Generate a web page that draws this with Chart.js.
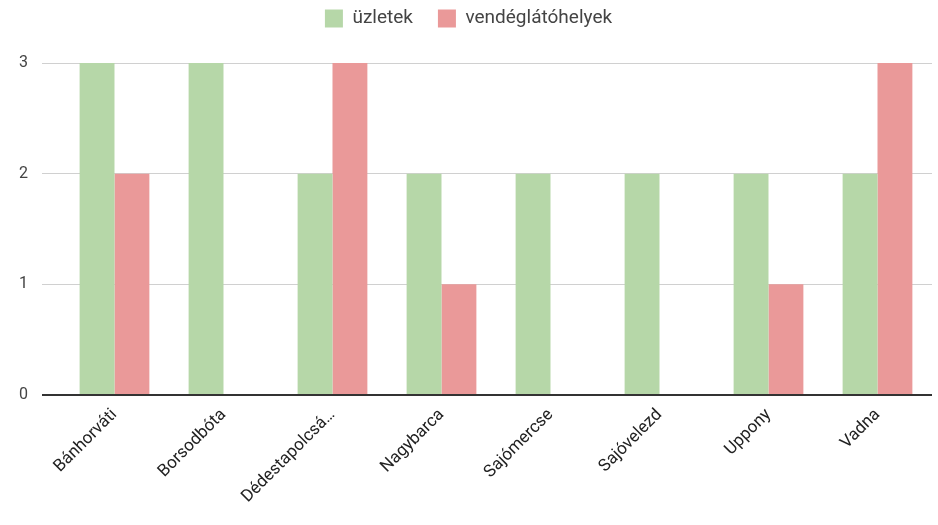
<!DOCTYPE html>
<html>
<head>
<meta charset="utf-8">
<script src="https://cdn.jsdelivr.net/npm/chart.js@4"></script>
<style>
  html, body { margin: 0; padding: 0; background: #fff; }
  #wrap { width: 938px; height: 525px; position: relative; }
</style>
</head>
<body>
<div id="wrap"><canvas id="ch"></canvas></div>
<script>
// ── data ──────────────────────────────────────────────
const categories = ['Bánhorváti', 'Borsodbóta', 'Dédestapolcsá…', 'Nagybarca', 'Sajómercse', 'Sajóvelezd', 'Uppony', 'Vadna'];
const uzletek = [3, 3, 2, 2, 2, 2, 2, 2];
const vendeglatohelyek = [2, 0, 3, 1, 0, 0, 1, 3];
const yTicks = [0, 1, 2, 3];

const FONT = 'Roboto, "Liberation Sans", Arial, sans-serif';

new Chart(document.getElementById('ch').getContext('2d'), {
  type: 'bar',
  data: {
    labels: categories,
    datasets: [
      { label: 'üzletek', data: uzletek, backgroundColor: '#b6d7a8', borderWidth: 0,
        categoryPercentage: 0.64, barPercentage: 1 },
      { label: 'vendéglátóhelyek', data: vendeglatohelyek, backgroundColor: '#ea9999', borderWidth: 0,
        categoryPercentage: 0.64, barPercentage: 1 },
    ]
  },
  options: {
    responsive: true, maintainAspectRatio: false, animation: false,
    layout: { padding: { left: 5, right: 6, top: -16, bottom: 16 } },
    plugins: {
      legend: {
        position: 'top',
        labels: { boxWidth: 18, boxHeight: 18, padding: 25, color: '#444', font: { family: FONT, size: 19 } }
      },
      tooltip: { enabled: false }
    },
    scales: {
      x: {
        grid: { display: false },
        border: { display: false },
        ticks: { color: '#222', padding: 2, font: { family: FONT, size: 17 }, minRotation: 45, maxRotation: 45, autoSkip: false }
      },
      y: {
        min: 0, max: 3,
        afterBuildTicks: axis => { axis.ticks = yTicks.map(v => ({ value: v })); },
        grid: {
          color: c => c.tick && c.tick.value === 0 ? '#333' : '#d0d0d0',
          lineWidth: c => c.tick && c.tick.value === 0 ? 2 : 1,
          tickLength: 18
        },
        border: { display: false },
        ticks: { color: '#444', padding: 14, font: { family: FONT, size: 16 } }
      }
    }
  },
  plugins: [{
    id: 'legendGap',
    beforeInit(chart) {
      const fit = chart.legend.fit;
      chart.legend.fit = function () { fit.call(this); this.height += 25; };
    }
  }]
});
</script>
</body>
</html>
